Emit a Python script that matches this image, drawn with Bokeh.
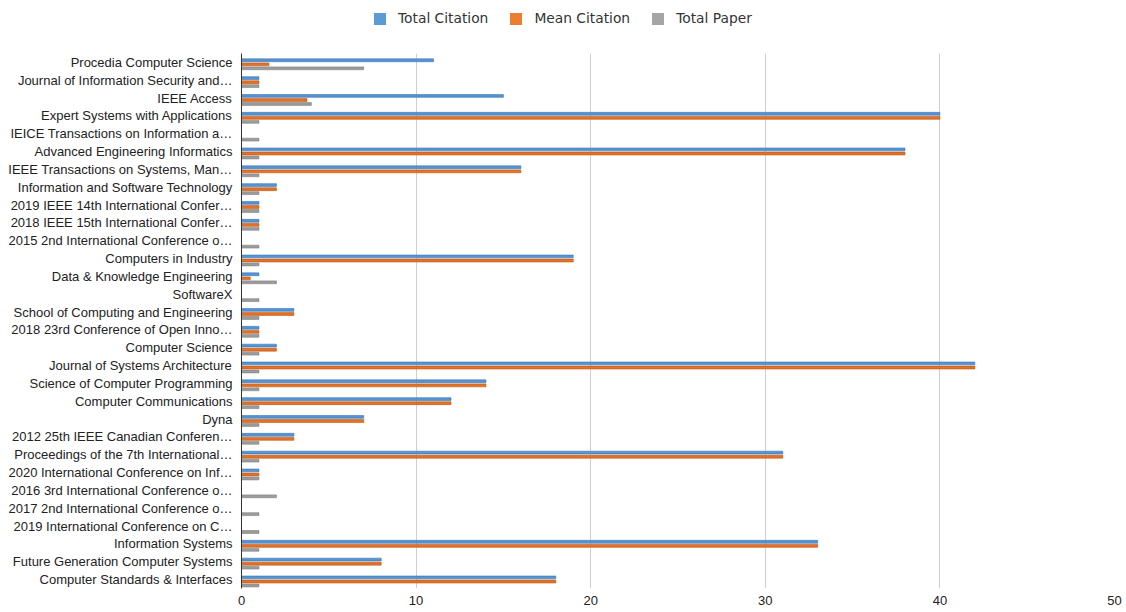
from bokeh.plotting import figure
from bokeh.models import ColumnDataSource, FactorRange, Range1d, FixedTicker, Legend, LegendItem
from bokeh.layouts import column
from bokeh.transform import dodge
from bokeh.embed import file_html
from bokeh.resources import INLINE

categories = [
    "Procedia Computer Science",
    "Journal of Information Security and…",
    "IEEE Access",
    "Expert Systems with Applications",
    "IEICE Transactions on Information a…",
    "Advanced Engineering Informatics",
    "IEEE Transactions on Systems, Man…",
    "Information and Software Technology",
    "2019 IEEE 14th International Confer…",
    "2018 IEEE 15th International Confer…",
    "2015 2nd International Conference o…",
    "Computers in Industry",
    "Data & Knowledge Engineering",
    "SoftwareX",
    "School of Computing and Engineering",
    "2018 23rd Conference of Open Inno…",
    "Computer Science",
    "Journal of Systems Architecture",
    "Science of Computer Programming",
    "Computer Communications",
    "Dyna",
    "2012 25th IEEE Canadian Conferen…",
    "Proceedings of the 7th International…",
    "2020 International Conference on Inf…",
    "2016 3rd International Conference o…",
    "2017 2nd International Conference o…",
    "2019 International Conference on C…",
    "Information Systems",
    "Future Generation Computer Systems",
    "Computer Standards & Interfaces",
]
total_citation = [11, 1, 15, 40, 0, 38, 16, 2, 1, 1, 0, 19, 1, 0, 3, 1, 2, 42, 14, 12, 7, 3, 31, 1, 0, 0, 0, 33, 8, 18]
mean_citation = [1.57, 1, 3.75, 40, 0, 38, 16, 2, 1, 1, 0, 19, 0.5, 0, 3, 1, 2, 42, 14, 12, 7, 3, 31, 1, 0, 0, 0, 33, 8, 18]
total_paper = [7, 1, 4, 1, 1, 1, 1, 1, 1, 1, 1, 1, 2, 1, 1, 1, 1, 1, 1, 1, 1, 1, 1, 1, 2, 1, 1, 1, 1, 1]
x_ticks = [0, 10, 20, 30, 40, 50]
series_names = ["Total Citation", "Mean Citation", "Total Paper"]

colors = ["#5B9BD5", "#ED7D31", "#A5A5A5"]
bar_fill = ["#5593D3", "#E2722A", "#9C9C9C"]
bar_line = ["#3C76B6", "#C0580F", "#808080"]
offsets = [0.12, -0.11, -0.33]
fields = ["tc", "mc", "tp"]

source = ColumnDataSource(dict(cat=categories, tc=total_citation, mc=mean_citation, tp=total_paper))

# ---- legend strip ----
lg = figure(width=1122, height=36, x_range=Range1d(0, 1), y_range=Range1d(0, 1),
            x_axis_location=None, y_axis_location=None,
            output_backend="svg", toolbar_location=None, min_border=0)
lg.outline_line_color = None
lg.grid.visible = False
lg_renderers = []
for c in colors:
    r = lg.rect(x=[0], y=[0], width=0, height=0, fill_color=c, line_color=None)
    lg_renderers.append(r)
legend = Legend(items=[LegendItem(label=n, renderers=[r]) for n, r in zip(series_names, lg_renderers)],
                orientation="horizontal", location=(131, 10),
                glyph_width=15, glyph_height=15, label_standoff=11, spacing=20,
                padding=0, margin=0, border_line_color=None, background_fill_alpha=0,
                label_text_font="DejaVu Sans", label_text_font_size="13.8px", label_text_color="#333333")
lg.add_layout(legend, "center")

# ---- main chart ----
p = figure(
    width=1122, height=574,
    y_range=FactorRange(factors=list(reversed(categories)), range_padding=0),
    x_range=Range1d(0, 50),
    output_backend="svg", toolbar_location=None,
    min_border_left=241, min_border_right=8, min_border_top=17, min_border_bottom=22,
)

for f, c, lc, off in zip(fields, bar_fill, bar_line, offsets):
    p.hbar(y=dodge("cat", off, range=p.y_range), right=f, left=0, height=0.16,
           source=source, fill_color=c, line_color=lc, line_width=0.6)

p.outline_line_color = None
p.ygrid.grid_line_color = None
p.xgrid.grid_line_color = "#cfcfcf"
p.xgrid.grid_line_width = 1

p.xaxis.ticker = FixedTicker(ticks=x_ticks)
p.xaxis.axis_line_color = None
p.xaxis.major_tick_line_color = None
p.xaxis.major_tick_out = 0
p.xaxis.major_tick_in = 0
p.xaxis.minor_tick_line_color = None
p.xaxis.minor_tick_out = 0
p.xaxis.major_label_text_font = "Liberation Sans"
p.xaxis.major_label_text_font_size = "13px"
p.xaxis.major_label_text_color = "#222222"
p.xaxis.major_label_standoff = 7

p.yaxis.axis_line_color = "#333333"
p.yaxis.axis_line_width = 1
p.yaxis.major_tick_line_color = None
p.yaxis.major_tick_out = 0
p.yaxis.major_tick_in = 0
p.yaxis.minor_tick_line_color = None
p.yaxis.minor_tick_out = 0
p.yaxis.major_label_text_font = "Liberation Sans"
p.yaxis.major_label_text_font_size = "13px"
p.yaxis.major_label_text_color = "#222222"
p.yaxis.major_label_standoff = 9

layout = column(lg, p, spacing=0)
open("out.html", "w").write(file_html(layout, INLINE))
